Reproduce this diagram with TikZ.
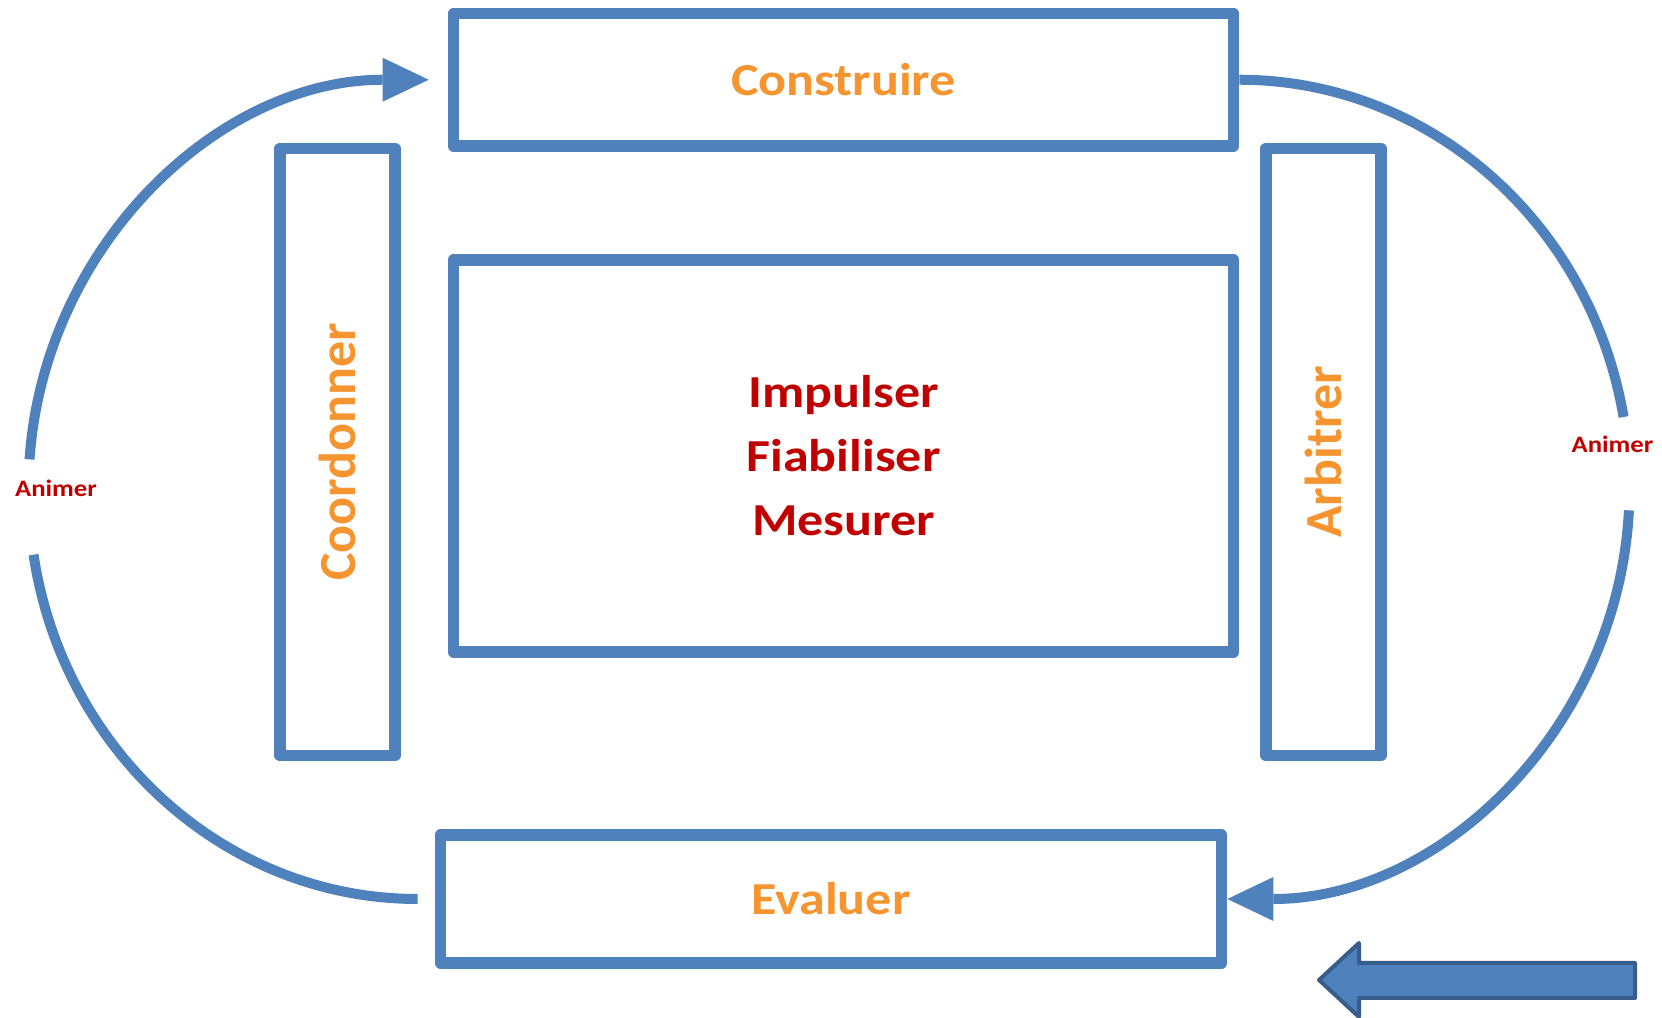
\documentclass[tikz,border=0pt]{standalone}
\usepackage{fontspec}
\setmainfont{Carlito}
\usepackage{xcolor}
\usepackage{graphicx}
\usetikzlibrary{arrows.meta}
\definecolor{boxblue}{RGB}{79,129,189}
\definecolor{arrowblue}{RGB}{56,93,138}
\definecolor{labelorange}{RGB}{246,148,48}
\definecolor{labelred}{RGB}{192,0,0}
\newcommand{\squash}[1]{\scalebox{1}[0.88]{#1}}
\tikzset{
  box/.style={draw=boxblue, line width=0.2875cm, line join=round, inner sep=0pt, align=center,
    text=labelorange, font=\bfseries\fontsize{37}{45.5}\selectfont},
  cycleline/.style={draw=boxblue, line width=0.25cm},
  cyclehead/.style={{Triangle[length=1.15cm,width=1.1cm,line width=0pt]}-},
  animer/.style={text=labelred, font=\bfseries\fontsize{19}{23}\selectfont, anchor=base, inner sep=0pt}
}
\begin{document}
\begin{tikzpicture}[x=0.025cm,y=0.025cm]
\useasboundingbox (0,0) rectangle (1662,1018);
\node[box, minimum width=19.5cm, minimum height=3.31cm] (construire) at (843.5,938.25) {\squash{Construire}};
\node[box, minimum width=19.5cm, minimum height=9.8cm, text=labelred] (mesure) at (843.5,562) {\squash{Impulser}\\\squash{Fiabiliser}\\\squash{Mesurer}};
\node[box, rotate=90, minimum width=15.175cm, minimum height=2.875cm] (coordonner) at (337.5,566) {Coordonner};
\node[box, rotate=90, minimum width=15.175cm, minimum height=2.875cm] (arbitrer) at (1323.5,566) {Arbitrer};
\node[box, minimum width=19.525cm, minimum height=3.2cm] (evaluer) at (831,119) {\squash{Evaluer}};
\node[animer] (animergauche) at (56,521) {\squash{Animer}};
\node[animer] (animerdroite) at (1612.5,565) {\squash{Animer}};
\coordinate (hautgauche) at ([xshift=-0.475cm]construire.west);
\coordinate (basgauche) at ([xshift=-0.425cm]evaluer.west);
\draw[cycleline, cyclehead] (hautgauche) arc[start angle=90, end angle=176, x radius=10cm, y radius=10.2cm];
\draw[cycleline] (basgauche) arc[start angle=270, end angle=189, x radius=9.72cm, y radius=10.2cm];
\draw[cycleline] (construire.east) arc[start angle=90, end angle=10, x radius=9.75cm, y radius=10.2cm];
\draw[cycleline, cyclehead] (evaluer.east) arc[start angle=270, end angle=357, x radius=10.05cm, y radius=10.25cm];
\draw[fill=boxblue, draw=arrowblue, line width=0.1cm, line join=round] (1319,38) -- (1359,75) -- (1359,55) -- (1635,55) -- (1635,20) -- (1359,20) -- (1359,1) -- cycle;
\end{tikzpicture}
\end{document}
